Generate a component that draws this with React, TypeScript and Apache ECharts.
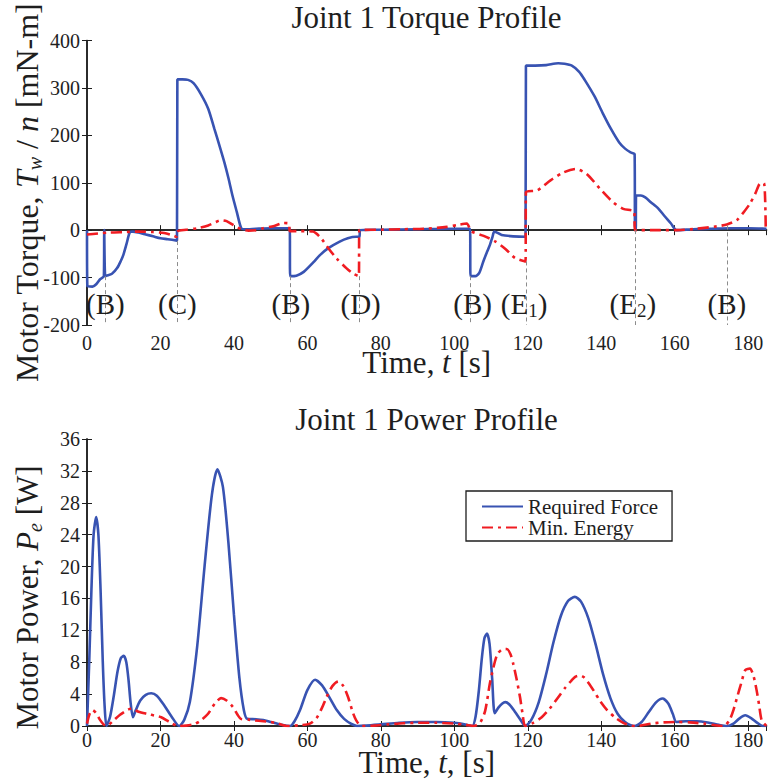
import React, { useEffect, useRef } from 'react';
import * as echarts from 'echarts';

const FONT = 'Liberation Serif';
const INK = '#1e1e1e';
const BLUE = '#3853b2';
const RED = '#f01c22';

// ---- Joint 1 torque profile [mN-m] vs time [s] ----
const torqueRequired = [
  [0, 0], [0.1, -118], [1.5, -119], [2.5, -114], [3.5, -104], [4.6, -97], [4.7, 0], [4.85, 0], [4.95, -97],
  [5.3, -96], [6.8, -92], [8.2, -80], [9.2, -65], [9.9, -52], [10.8, -28], [11.7, -4], [12.5, -3],
  [14, -5], [16, -9], [18, -13], [20, -17], [22, -19], [24.5, -22],
  [24.6, 318], [26, 318], [27.5, 317], [29, 310], [31, 287], [33, 256], [34.7, 213], [36, 180],
  [37.4, 143], [38.5, 110], [39.6, 73], [40.8, 38], [42, 4], [43, 2], [46, 3], [50, 4], [55.2, 4],
  [55.3, -97], [57, -96], [59, -88], [61.6, -68], [63.5, -52], [65.7, -38], [68.8, -24], [71, -17],
  [73.3, -14], [74.2, -14], [74.3, 0], [80, 1], [90, 2], [100, 3], [104.3, 3],
  [104.4, -97], [105.7, -97], [106.8, -90], [107.9, -66], [108.8, -48], [109.7, -31], [110.4, -14],
  [110.9, -3], [112.9, -10], [116, -13], [119.4, -14],
  [119.5, 347], [122, 347], [125, 348], [128.3, 352], [130, 351], [132, 347], [134, 334], [135.5, 317],
  [138.2, 282], [140.4, 247], [142.7, 213], [144.9, 185], [146.5, 172], [148, 164], [149.1, 160],
  [149.2, 0], [149.4, 0], [149.5, 73], [150.8, 73], [152, 69], [153.5, 59], [155.5, 46], [157.1, 31],
  [159, 14], [160.5, 0], [165, 2], [170, 3], [175, 4], [180, 4], [185, 3],
];
const torqueMinEnergy = [
  [0, -9], [3, -7], [6, -5], [10, -4], [14, -3], [18, -4], [21, -6], [23, -10], [24.4, -14],
  [24.5, -3], [27, 1], [30, 4], [33, 10], [35, 17], [36.5, 21], [38, 19], [40, 10], [42, 2], [44, -1],
  [46, 0], [48, 4], [51, 9], [53.5, 15], [55, 14], [55.2, -2], [58, -2], [61.5, -3], [63.5, -15],
  [65.7, -38], [68, -60], [70.6, -80], [72.5, -92], [74, -97], [74.15, 0], [80, 1], [86, 2], [92, 3],
  [98, 7], [101, 11], [103.4, 14], [104.6, -2], [108, -12], [111.2, -24], [114, -40], [116.6, -59],
  [119.4, -66], [119.5, 80], [122.6, 84], [126.2, 105], [129.8, 122], [133, 129], [136, 119],
  [139.7, 87], [143.2, 59], [146, 45], [149, 39], [149.15, 0], [155, 0], [160.7, 0], [166, 3],
  [171.5, 8], [174.2, 12], [176.9, 21], [178.5, 35], [180.5, 56], [182, 78], [183.2, 98], [184.3, 99],
  [184.8, 0],
];

// ---- Joint 1 power profile [W] vs time [s] ----
const powerRequired = [
  [0, 0], [0.6, 8], [1.2, 17], [1.8, 24], [2.5, 26.2], [3.1, 24], [3.7, 17], [4.3, 8], [4.8, 2.5], [5.3, 0],
  [6.3, 1.2], [7.3, 3.8], [8.3, 6.8], [9.2, 8.5], [10, 8.8], [10.7, 8], [11.3, 5.8], [11.9, 2.8], [12.5, 1.1],
  [13.2, 1.9], [14.5, 3.2], [16, 3.9], [17.5, 4.1], [19, 3.8], [21, 2.6], [23, 1.2], [25.1, 0],
  [26.5, 0.8], [28, 3], [30, 10], [32, 20], [34, 29], [35.5, 32.2], [37, 30], [38.5, 23], [40, 14],
  [41.5, 6], [42.7, 2], [43.6, 0.9], [46, 0.85], [48, 0.75], [50, 0.5], [53, 0.15], [55.3, 0],
  [56.5, 0.6], [58, 2], [60, 4.5], [62.1, 5.8], [64, 5.1], [66, 3.6], [68, 2], [70, 0.9], [72, 0.25],
  [73.5, 0], [76, 0.05], [80, 0.2], [85, 0.4], [90, 0.5], [95, 0.5], [100, 0.4], [103, 0.2], [104.9, 0],
  [105.8, 1.2], [106.7, 4.5], [107.5, 8.5], [108.2, 11], [108.9, 11.6], [109.6, 10.3], [110.3, 6],
  [111, 1.6], [112, 2.3], [113, 2.8], [113.9, 3], [115, 2.7], [116.5, 1.8], [118, 0.8], [119.3, 0],
  [121, 0.8], [123, 3], [125, 6.5], [127, 10.5], [129, 13.8], [131, 15.7], [132.8, 16.2], [134.5, 15.6],
  [136.5, 13.5], [138.5, 10.2], [140.5, 6.5], [142.5, 3.5], [144.5, 1.5], [146.5, 0.5], [149, 0],
  [151, 0.5], [153, 1.8], [155, 3], [156.7, 3.45], [158.3, 2.8], [159.5, 1.5], [160.5, 0.5], [163, 0.6],
  [166, 0.6], [169, 0.45], [172, 0.15], [174.2, 0], [176, 0.3], [177.5, 0.9], [179.2, 1.34],
  [180.8, 1], [182.5, 0.4], [184, 0], [185, 0],
];
const powerMinEnergy = [
  [0, 0.3], [0.7, 1.5], [1.5, 2], [2.5, 1.6], [3.5, 0.8], [4.5, 0.2], [5.3, 0], [7, 0.6], [9, 1.4],
  [11, 2], [12.2, 2.2], [14, 1.8], [16.6, 1.5], [18.5, 1.3], [20.2, 1.1], [22.5, 0.5], [24.8, 0],
  [27, 0.05], [29.3, 0.25], [31, 0.7], [32.9, 1.5], [34.8, 2.8], [36.5, 3.5], [38, 3.2], [39.7, 2.4],
  [41, 1.4], [41.9, 0.9], [44, 0.8], [45.5, 0.7], [48, 0.6], [50, 0.5], [52, 0.3], [54.5, 0], [58, 0.1],
  [60.7, 0.3], [62.5, 1], [64, 2.3], [65.2, 3.6], [66.8, 5], [68.4, 5.6], [69.8, 5], [71.1, 3.6],
  [72.3, 1.8], [73.3, 0.7], [74.7, 0], [78, 0.05], [82, 0.2], [86, 0.35], [90, 0.4], [95, 0.4],
  [100, 0.3], [103, 0.15], [105.3, 0], [107, 0.4], [108.4, 1.9], [109.8, 5.6], [111.6, 8.9], [113, 9.6],
  [114.3, 9.65], [115.3, 9], [116.1, 7.7], [117, 5.8], [117.9, 3.6], [118.6, 1.5], [119.3, 0],
  [121.5, 0.4], [123.8, 1.1], [126, 2.2], [128.3, 3.6], [130.2, 4.8], [131.9, 5.7], [133, 6.2],
  [134.2, 6.35], [135.3, 6.1], [136.4, 5.5], [138, 4.4], [139.6, 3.2], [141.6, 2], [143.7, 1.1],
  [146, 0.4], [148.2, 0.05], [150, 0], [153.6, 0.3], [157, 0.45], [160.8, 0.5], [164, 0.45], [168, 0.3],
  [171, 0.1], [173.4, 0], [175, 0.8], [176, 2], [177, 3.6], [178.2, 5.5], [179.2, 7], [180.5, 7.2],
  [181.5, 6.2], [182.3, 4.5], [183, 2.6], [183.7, 0.7], [185, 0],
];

// ---- phase markers on the torque plot ----
const markerT = [5, 24.5, 55.3, 74.1, 104.4, 119.5, 149.2, 174.2];
const markerTop = [-97, -23, -97, -97, -97, -66, 0, 10];
const markerLabels = ['(B)', '(C)', '(B)', '(D)', '(B)', '(E{s|1})', '(E{s|2})', '(B)'];
const labelT = [5, 24.6, 55.5, 74.5, 105, 119, 148.6, 174.2];
const labelY = -156;

const seriesNames = ['Required Force', 'Min. Energy'];
const xTicks = { min: 0, max: 185, interval: 20 };
const torqueTicks = { min: -200, max: 400, interval: 100 };
const powerTicks = { min: 0, max: 36, interval: 4 };

function nameStyle(size: number, padRight: number, lh: number) {
  return {
    fontFamily: FONT,
    fontSize: size,
    color: INK,
    lineHeight: lh,
    padding: [0, padRight, 0, 0],
    rich: {
      i: { fontFamily: FONT, fontSize: size, fontStyle: 'italic', color: INK, lineHeight: lh },
      w: { fontFamily: FONT, fontSize: 20, fontStyle: 'italic', color: INK, lineHeight: 22, verticalAlign: 'bottom' },
    },
  };
}

const lineAxis = { show: true, lineStyle: { color: INK, width: 1.5 } };
const tickIn = { show: true, inside: true, length: 5, lineStyle: { color: INK, width: 1 } };

function xAxisDef(gridIndex: number, position: string, labels: boolean, name: string, nameGap: number, margin: number) {
  return {
    type: 'value',
    gridIndex,
    position,
    ...xTicks,
    axisLine: lineAxis,
    axisTick: tickIn,
    splitLine: { show: false },
    axisLabel: labels
      ? { show: true, fontFamily: FONT, fontSize: 20, lineHeight: 18, color: INK, margin, showMaxLabel: false }
      : { show: false },
    name: labels ? name : '',
    nameLocation: 'middle',
    nameGap,
    nameMoveOverlap: false,
    nameTextStyle: nameStyle(31, 0, 22),
  };
}

function yAxisDef(gridIndex: number, position: string, labels: boolean, ticks: any, name: string, size: number, padRight: number) {
  return {
    type: 'value',
    gridIndex,
    position,
    ...ticks,
    axisLine: lineAxis,
    axisTick: tickIn,
    splitLine: { show: false },
    axisLabel: labels ? { show: true, fontFamily: FONT, fontSize: 20, color: INK, margin: 7 } : { show: false },
    name: labels ? name : '',
    nameLocation: 'middle',
    nameGap: 42,
    nameMoveOverlap: false,
    nameTextStyle: nameStyle(size, padRight, 36),
  };
}

const solid = { color: BLUE, width: 2.6, type: 'solid' };
const dashDot = { color: RED, width: 2.6, type: [11, 5, 3, 5] };

const option: any = {
  animation: false,
  backgroundColor: '#fff',
  title: [
    {
      text: 'Joint 1 Torque Profile', left: 426.5, top: 2, textAlign: 'center', padding: 0,
      textStyle: { fontFamily: FONT, fontSize: 31, fontWeight: 'normal', color: INK },
    },
    {
      text: 'Joint 1 Power Profile', left: 426.5, top: 404, textAlign: 'center', padding: 0,
      textStyle: { fontFamily: FONT, fontSize: 31, fontWeight: 'normal', color: INK },
    },
  ],
  legend: {
    data: seriesNames,
    orient: 'vertical',
    left: 466,
    top: 491,
    padding: [5, 14, 3, 15],
    itemGap: 0,
    itemWidth: 41,
    itemHeight: 14,
    borderColor: INK,
    borderWidth: 1.3,
    borderRadius: 0,
    backgroundColor: '#fff',
    selectedMode: false,
    itemStyle: { opacity: 0 },
    textStyle: { fontFamily: FONT, fontSize: 21, lineHeight: 21, color: INK },
  },
  grid: [
    { left: 87, top: 40.5, width: 679.5, height: 284.5, containLabel: false, outerBoundsMode: 'none' },
    { left: 87, top: 439, width: 679.5, height: 287, containLabel: false, outerBoundsMode: 'none' },
  ],
  xAxis: [
    xAxisDef(0, 'bottom', true, 'Time, {i|t} [s]', 26.5, 9),
    xAxisDef(0, 'top', false, '', 0, 0),
    xAxisDef(1, 'bottom', true, 'Time, {i|t}, [s]', 25.5, 5),
    xAxisDef(1, 'top', false, '', 0, 0),
  ],
  yAxis: [
    yAxisDef(0, 'left', true, torqueTicks, 'Motor Torque, {i|T}{w|w} / {i|n} [mN-m]', 32, 20),
    yAxisDef(0, 'right', false, torqueTicks, '', 32, 0),
    yAxisDef(1, 'left', true, powerTicks, 'Motor Power, {i|P}{w|e} [W]', 31, 30),
    yAxisDef(1, 'right', false, powerTicks, '', 31, 0),
  ],
  series: [
    {
      name: 'Required Force (torque)', type: 'line', xAxisIndex: 0, yAxisIndex: 0,
      data: torqueRequired, showSymbol: false, symbol: 'none', smooth: 0.25, lineStyle: solid, color: BLUE,
    },
    {
      name: 'Min. Energy (torque)', type: 'line', xAxisIndex: 0, yAxisIndex: 0,
      data: torqueMinEnergy, showSymbol: false, symbol: 'none', smooth: 0.25, lineStyle: dashDot, color: RED,
      markLine: {
        silent: true,
        symbol: ['none', 'none'],
        label: { show: false },
        emphasis: { disabled: true },
        lineStyle: { color: '#8c8c8c', width: 1, type: [4, 3] },
        data: markerT.map((t, i) => [{ coord: [t, markerTop[i]] }, { coord: [t, torqueTicks.min] }]),
      },
    },
    {
      name: 'phase labels', type: 'scatter', xAxisIndex: 0, yAxisIndex: 0, silent: true,
      symbolSize: 0, itemStyle: { color: INK, opacity: 1 }, z: 5,
      data: labelT.map((t, i) => ({ name: markerLabels[i], value: [t, labelY] })),
      label: {
        show: true, position: 'inside', formatter: '{b}', color: INK, opacity: 1, textBorderWidth: 0,
        fontFamily: FONT, fontSize: 29, lineHeight: 32,
        rich: { s: { fontFamily: FONT, fontSize: 19, color: INK, lineHeight: 18, verticalAlign: 'bottom' } },
      },
    },
    {
      name: seriesNames[0], type: 'line', xAxisIndex: 2, yAxisIndex: 2,
      data: powerRequired, showSymbol: false, symbol: 'none', smooth: 0.25, lineStyle: solid, color: BLUE,
    },
    {
      name: seriesNames[1], type: 'line', xAxisIndex: 2, yAxisIndex: 2,
      data: powerMinEnergy, showSymbol: false, symbol: 'none', smooth: 0.25, lineStyle: dashDot, color: RED,
    },
  ],
};

export default function App() {
  const ref = useRef<HTMLDivElement>(null);
  useEffect(() => {
    const chart = echarts.init(ref.current as HTMLDivElement, null, { renderer: 'svg' });
    chart.setOption(option);
    return () => chart.dispose();
  }, []);
  return (
    <div
      ref={ref}
      style={{ position: 'fixed', left: 0, top: 0, width: 768, height: 782, background: '#fff' }}
    />
  );
}
